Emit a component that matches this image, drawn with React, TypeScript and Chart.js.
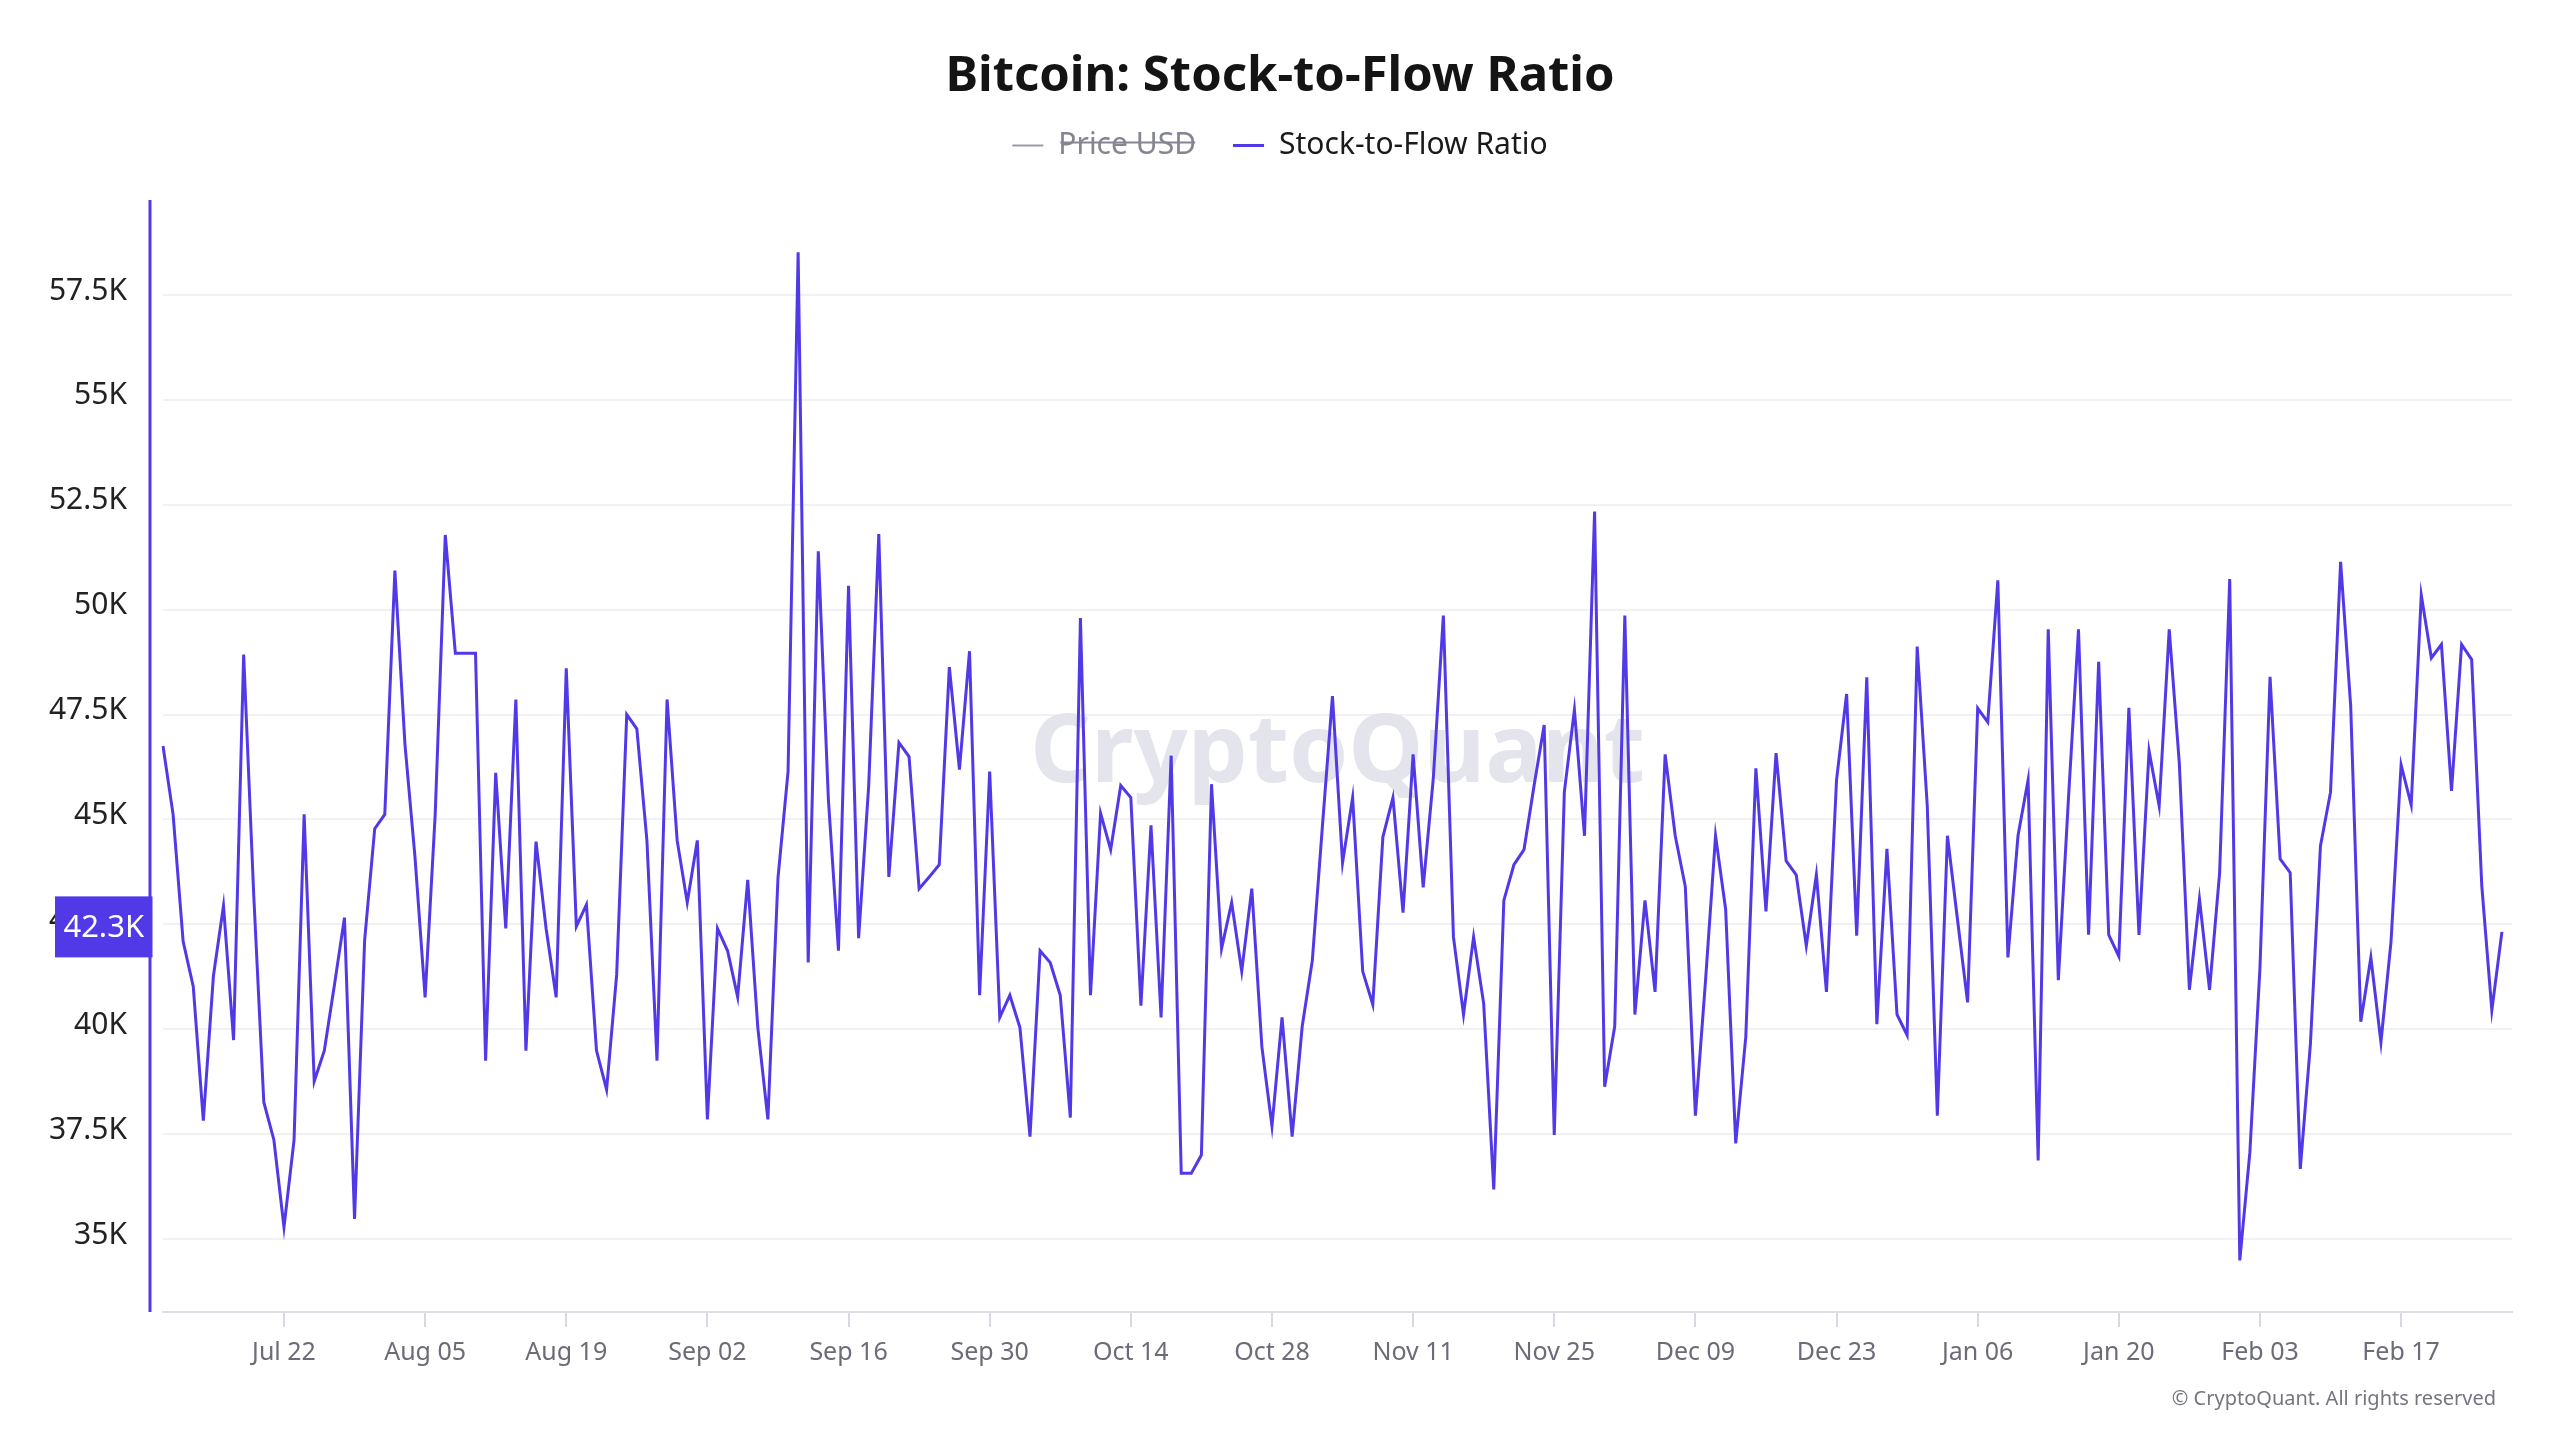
import React, { useEffect, useRef } from 'react';
import { Chart, registerables } from 'chart.js';

Chart.register(...registerables);

const START_DATE = '2024-07-10';
const MONTHS = ['Jan', 'Feb', 'Mar', 'Apr', 'May', 'Jun', 'Jul', 'Aug', 'Sep', 'Oct', 'Nov', 'Dec'];
const TICK_LABELS = ['Jul 22', 'Aug 05', 'Aug 19', 'Sep 02', 'Sep 16', 'Sep 30', 'Oct 14', 'Oct 28', 'Nov 11', 'Nov 25', 'Dec 09', 'Dec 23', 'Jan 06', 'Jan 20', 'Feb 03', 'Feb 17'];
const Y_TICKS = [35000, 37500, 40000, 42500, 45000, 47500, 50000, 52500, 55000, 57500];
const Y_MIN = 33260;
const Y_MAX = 59764;

const PRICE_USD: number[] = [];
const STOCK_TO_FLOW = [
  46750, 45120, 42090, 41020, 37820, 41270, 42940, 39740, 48930, 43200,
  38260, 37360, 35280, 37360, 45120, 38760, 39490, 41050, 42660, 35480,
  42120, 44780, 45120, 50930, 46790, 44090, 40760, 45120, 51780, 48960,
  48960, 48960, 39250, 46110, 42400, 47860, 39490, 44470, 42400, 40760,
  48600, 42450, 42970, 39490, 38560, 41300, 47500, 47160, 44500, 39250,
  47860, 44500, 43020, 44500, 37850, 42400, 41870, 40770, 43560, 40040,
  37850, 43600, 46140, 58520, 41590, 51390, 45480, 41870, 50570, 42170,
  45810, 51800, 43630, 46830, 46500, 43350, 43630, 43920, 48630, 46190,
  49010, 40810, 46140, 40280, 40810, 40040, 37440, 41870, 41590, 40810,
  37890, 49800, 40810, 45150, 44280, 45810, 45520, 40560, 44860, 40280,
  46520, 36570, 36570, 37000, 45840, 41920, 43020, 41380, 43350, 39580,
  37690, 40280, 37440, 40070, 41630, 44830, 47940, 43970, 45520, 41380,
  40590, 44580, 45520, 42780, 46550, 43380, 45970, 49860, 42200, 40350,
  42200, 40610, 36180, 43070, 43920, 44280, 45810, 47250, 37480, 45650,
  47610, 44610, 52340, 38630, 40070, 49860, 40350, 43070, 40890, 46550,
  44610, 43400, 37940, 41140, 44610, 42860, 37280, 39820, 46220, 42810,
  46580, 44010, 43680, 41990, 43680, 40890, 45940, 47990, 42230, 48390,
  40120, 44300, 40350, 39860, 49120, 45320, 37940, 44610, 42610, 40640,
  47650, 47320, 50700, 41710, 44610, 45940, 36870, 49530, 41170, 45480,
  49530, 42250, 48760, 42250, 41740, 47660, 42250, 46630, 45320, 49530,
  46340, 40940, 43100, 40940, 43730, 50730, 34490, 37070, 41460, 48400,
  44060, 43730, 36670, 39630, 44370, 45650, 51140, 47700, 40180, 41710,
  39690, 42090, 46300, 45350, 50350, 48850, 49170, 45680, 49170, 48810,
  43430, 40450, 42320,
];

const PURPLE = '#5139e8';
const FONT = '"Noto Sans", "Open Sans", sans-serif';

function buildDates(start: string, count: number): string[] {
  const [y, m, d] = start.split('-').map(Number);
  const out: string[] = [];
  for (let i = 0; i < count; i++) {
    const dt = new Date(Date.UTC(y, m - 1, d + i));
    out.push(`${MONTHS[dt.getUTCMonth()]} ${String(dt.getUTCDate()).padStart(2, '0')}`);
  }
  return out;
}

// one extra trailing category gives the empty day of room at the right edge
const DATES = buildDates(START_DATE, STOCK_TO_FLOW.length + 1);
const TICK_SET = new Set(TICK_LABELS);

const decorPlugin = {
  id: 'decor',
  beforeDatasetsDraw(chart: any) {
    const { ctx, chartArea } = chart;
    ctx.save();
    ctx.font = `bold 95px ${FONT}`;
    ctx.fillStyle = '#e4e4ec';
    ctx.textAlign = 'center';
    ctx.textBaseline = 'alphabetic';
    const cx = (chartArea.left + chartArea.right) / 2;
    const cy = (chartArea.top + chartArea.bottom) / 2;
    ctx.fillText('CryptoQuant', cx, cy + 26);
    ctx.restore();
  },
  afterDraw(chart: any) {
    const { ctx, chartArea, scales } = chart;
    ctx.save();
    // purple y-axis line
    const axisX = chartArea.left - 13;
    ctx.strokeStyle = PURPLE;
    ctx.lineWidth = 3;
    ctx.beginPath();
    ctx.moveTo(axisX, chartArea.top);
    ctx.lineTo(axisX, chartArea.bottom);
    ctx.stroke();
    // last value badge
    const last = STOCK_TO_FLOW[STOCK_TO_FLOW.length - 1];
    const y = scales.y.getPixelForValue(last) - 5;
    const left = 55;
    const right = axisX + 2.5;
    ctx.fillStyle = PURPLE;
    ctx.fillRect(left, y - 30.5, right - left, 61);
    ctx.fillStyle = '#ffffff';
    ctx.font = `31px ${FONT}`;
    ctx.textAlign = 'center';
    ctx.textBaseline = 'middle';
    ctx.fillText(`${(last / 1000).toFixed(1)}K`, (left + right) / 2, y + 1);
    // footer
    ctx.font = `20px ${FONT}`;
    ctx.fillStyle = '#75757f';
    ctx.textAlign = 'right';
    ctx.textBaseline = 'middle';
    ctx.fillText('© CryptoQuant. All rights reserved', chart.width - 64, 1399);
    ctx.restore();
  },
};

export default function App() {
  const canvasRef = useRef<HTMLCanvasElement | null>(null);

  useEffect(() => {
    document.body.style.margin = '0';
    document.body.style.overflow = 'hidden';
    const canvas = canvasRef.current;
    if (!canvas) return;

    const chart = new Chart(canvas, {
      type: 'line',
      data: {
        labels: DATES,
        datasets: [
          {
            label: 'Price USD',
            data: PRICE_USD,
            hidden: true,
            borderColor: '#9a9aa6',
            backgroundColor: '#9a9aa6',
            borderWidth: 2,
            pointRadius: 0,
          },
          {
            label: 'Stock-to-Flow Ratio',
            data: STOCK_TO_FLOW,
            borderColor: PURPLE,
            backgroundColor: PURPLE,
            borderWidth: 3,
            pointRadius: 0,
            tension: 0,
            yAxisID: 'y',
          },
        ],
      },
      options: {
        animation: false,
        responsive: true,
        maintainAspectRatio: false,
        layout: { padding: { top: 0, left: 0, right: 0, bottom: 0 } },
        plugins: {
          title: {
            display: true,
            text: 'Bitcoin: Stock-to-Flow Ratio',
            color: '#141414',
            font: { family: FONT, size: 49, weight: 'bold', lineHeight: 1 },
            padding: { top: 53, bottom: -8.5 },
          },
          subtitle: {
            display: true,
            text: ' ',
            weight: 500,
            font: { size: 1, lineHeight: 1 },
            padding: { top: 28.5, bottom: 0 },
          },
          legend: {
            display: true,
            position: 'top',
            onClick: () => {},
            labels: {
              usePointStyle: true,
              pointStyle: 'line',
              pointStyleWidth: 31,
              padding: 37,
              color: '#1a1a1a',
              font: { family: FONT, size: 30 },
              generateLabels(c: any) {
                const items = Chart.defaults.plugins.legend.labels.generateLabels(c);
                items.forEach((it: any) => {
                  const ds = c.data.datasets[it.datasetIndex];
                  it.fontColor = it.hidden ? '#858592' : '#1a1a1a';
                  it.strokeStyle = ds.borderColor;
                  it.lineWidth = it.hidden ? 2 : 3;
                  it.pointStyle = 'line';
                });
                return items;
              },
            },
          },
          tooltip: { enabled: false },
        },
        scales: {
          x: {
            type: 'category',
            offset: false,
            grid: {
              display: true,
              drawOnChartArea: false,
              drawTicks: true,
              tickLength: 15,
              color: '#d8d8e0',
              lineWidth: 2,
            },
            border: { display: true, color: '#dedee6', width: 2 },
            ticks: {
              autoSkip: false,
              maxRotation: 0,
              minRotation: 0,
              padding: 11,
              color: '#6c6c78',
              font: { family: FONT, size: 25 },
              callback(this: any, value: any) {
                const l = this.getLabelForValue(value);
                return TICK_SET.has(l) ? l : null;
              },
            },
            afterFit(scale: any) {
              scale.height = 128;
            },
          },
          y: {
            type: 'linear',
            position: 'left',
            min: Y_MIN,
            max: Y_MAX,
            grid: { color: '#f1f1f4', lineWidth: 2, drawTicks: false },
            border: { display: false },
            ticks: {
              padding: 36,
              labelOffset: -4,
              color: '#222222',
              font: { family: FONT, size: 30 },
              callback: (v: any) => `${Number(v) / 1000}K`,
            },
            afterBuildTicks(scale: any) {
              scale.ticks = Y_TICKS.map((v) => ({ value: v }));
            },
            afterFit(scale: any) {
              scale.width = 163;
            },
          },
          yRight: {
            type: 'linear',
            position: 'right',
            display: true,
            grid: { display: false, drawTicks: false },
            border: { display: false },
            ticks: { display: false },
            afterFit(scale: any) {
              scale.width = 48;
            },
          },
        },
      } as any,
      plugins: [decorPlugin],
    });

    return () => chart.destroy();
  }, []);

  return (
    <div style={{ width: 2560, height: 1440, position: 'relative', background: '#ffffff' }}>
      <canvas ref={canvasRef} />
    </div>
  );
}
